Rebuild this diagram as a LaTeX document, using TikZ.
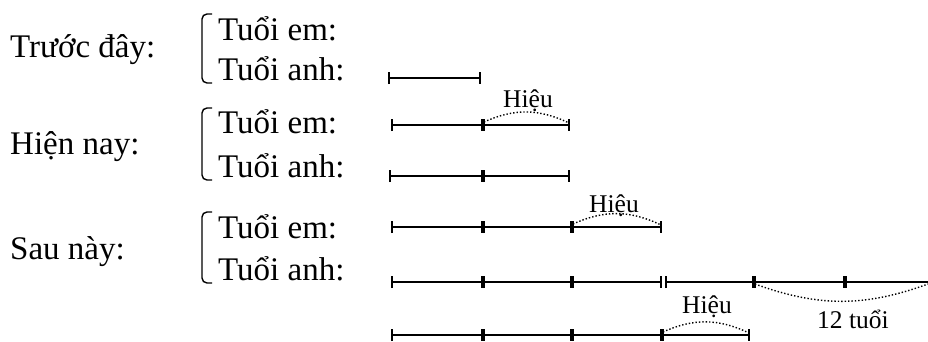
\documentclass[tikz,border=0pt]{standalone}
\usepackage{fontspec}
\setmainfont{Liberation Serif}
\usetikzlibrary{arrows.meta}
\begin{document}
\begin{tikzpicture}[x=1pt,y=-1pt,
  big/.style={anchor=base west,inner sep=0pt,font=\fontsize{33}{40}\selectfont},
  small/.style={anchor=base,inner sep=0pt,font=\fontsize{25.5}{30}\selectfont},
  seg/.style={line width=1.8pt,{Bar[width=12pt,line width=1.6pt]}-{Bar[width=12pt,line width=1.6pt]}},
  segopen/.style={line width=1.8pt,{Bar[width=12pt,line width=1.6pt]}-},
  arcup/.style={dotted,line width=1.4pt,bend left=25},
  arcdown/.style={dotted,line width=1.4pt,bend right=20},
  bracket/.style={line width=1.4pt,rounded corners=5pt}]
\useasboundingbox (0,0) rectangle (928,341);

% labels
\node[big] (tr) at (10,57) {Trước đây:};
\node[big] (hn) at (10,154) {Hiện nay:};
\node[big] (sn) at (10,259) {Sau này:};
\node[big] (e1) at (218,40) {Tuổi em:};
\node[big] (a1) at (218,80) {Tuổi anh:};
\node[big] (e2) at (218,133) {Tuổi em:};
\node[big] (a2) at (218,177) {Tuổi anh:};
\node[big] (e3) at (218,238) {Tuổi em:};
\node[big] (a3) at (218,280) {Tuổi anh:};

% brackets
\draw[bracket] (212,14) -- (202,14) -- (202,83) -- (212,83);
\draw[bracket] (212,108) -- (202,108) -- (202,180) -- (212,180);
\draw[bracket] (212,212) -- (202,212) -- (202,283) -- (212,283);

% row 1
\coordinate (p10) at (388,78);
\coordinate (p11) at (481,78);
\draw[seg] (p10) -- (p11);

% row 2 em
\coordinate (p20) at (391,125);
\coordinate (p21) at (483,125);
\coordinate (p22) at (570,125);
\draw[seg] (p20) -- (p21);
\draw[seg] (p21) -- (p22);
\coordinate (h2a) at (484,122);
\coordinate (h2b) at (569,123);
\draw[arcup] (h2a) to (h2b);
\node[small] (h2) at (528,107) {Hiệu};

% row 2 anh
\coordinate (q20) at (389,176);
\coordinate (q21) at (483,176);
\coordinate (q22) at (570,176);
\draw[seg] (q20) -- (q21);
\draw[seg] (q21) -- (q22);

% row 3 em
\coordinate (p30) at (391,227);
\coordinate (p31) at (483,227);
\coordinate (p32) at (572,227);
\coordinate (p33) at (662,227);
\draw[seg] (p30) -- (p31);
\draw[seg] (p31) -- (p32);
\draw[seg] (p32) -- (p33);
\coordinate (h3a) at (573,224);
\coordinate (h3b) at (661,225);
\draw[arcup] (h3a) to (h3b);
\node[small] (h3) at (614,212) {Hiệu};

% row 3 anh
\coordinate (q30) at (391,282);
\coordinate (q31) at (483,282);
\coordinate (q32) at (572,282);
\coordinate (q33) at (662,282);
\coordinate (q34) at (665,282);
\coordinate (q35) at (754,282);
\coordinate (q36) at (845,282);
\coordinate (q37) at (928,282);
\draw[seg] (q30) -- (q31);
\draw[seg] (q31) -- (q32);
\draw[seg] (q32) -- (q33);
\draw[seg] (q34) -- (q35);
\draw[seg] (q35) -- (q36);
\draw[segopen] (q36) -- (q37);
\coordinate (t1) at (755,284);
\coordinate (t2) at (928,284);
\draw[arcdown] (t1) to (t2);
\node[small] (tw) at (853,328) {12 tuổi};

% bottom row
\coordinate (b0) at (391,335);
\coordinate (b1) at (483,335);
\coordinate (b2) at (572,335);
\coordinate (b3) at (662,335);
\coordinate (b4) at (750,335);
\draw[seg] (b0) -- (b1);
\draw[seg] (b1) -- (b2);
\draw[seg] (b2) -- (b3);
\draw[seg] (b3) -- (b4);
\coordinate (h4a) at (663,332);
\coordinate (h4b) at (749,333);
\draw[arcup] (h4a) to (h4b);
\node[small] (h4) at (707,313) {Hiệu};
\end{tikzpicture}
\end{document}
